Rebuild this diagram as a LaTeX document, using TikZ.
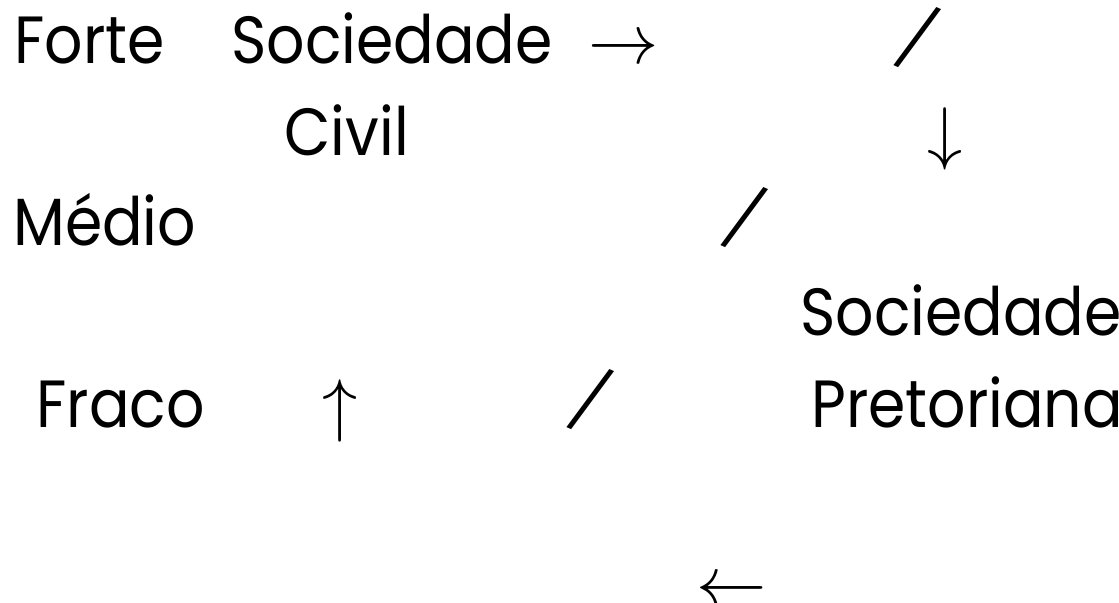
\RequirePackage{fix-cm}
\documentclass[tikz,border=0pt]{standalone}
\usepackage{amsmath}
\usepackage{fontspec}
\setmainfont{Poppins}[FakeStretch=0.9]
\usetikzlibrary{positioning}

\tikzset{
    txt/.style={anchor=base west, inner sep=0pt, font=\fontsize{38}{40}\selectfont},
    sym/.style={anchor=base west, inner sep=0pt, font=\fontsize{40}{42}\selectfont},
    slash/.style={anchor=center, inner sep=0pt, rotate=-24, scale=0.95, font=\fontsize{38}{40}\selectfont}
}

\begin{document}
\begin{tikzpicture}[x=0.02cm, y=-0.02cm]
                \useasboundingbox (0,0) rectangle (1119,602);
                \node[txt] (forte) at (14,63) {Forte};
                \node[txt] (socA) at (231,63) {Sociedade};
                \node[sym] (toR) at (588,63) {$\rightarrow$};
                \node[slash] (slA) at (918,38) {/};
                \node[txt] (civil) at (284,155) {Civil};
                \node[sym] (toD) at (927,156) {$\downarrow$};
                \node[txt] (medio) at (13,245) {Médio};
                \node[slash] (slB) at (745,218) {/};
                \node[txt] (socB) at (800,335) {Sociedade};
                \node[txt] (fraco) at (36,427) {Fraco};
                \node[sym] (toU) at (322,428) {$\uparrow$};
                \node[slash] (slC) at (591,400) {/};
                \node[txt] (pret) at (811,427) {Pretoriana};
                \node[sym] (toL) at (696,605) {$\leftarrow$};
            \end{tikzpicture}
\end{document}
